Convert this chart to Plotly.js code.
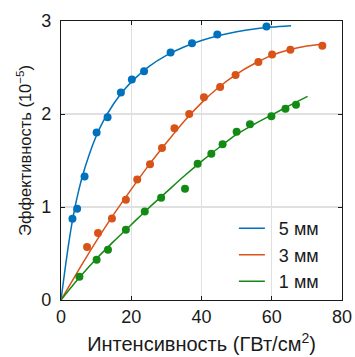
<!DOCTYPE html>
<html>
<head>
<meta charset="utf-8">
<script src="https://cdn.plot.ly/plotly-3.0.1.min.js"></script>
<style>html,body{margin:0;padding:0;background:#fff;}#chart{width:355px;height:357px;}</style>
</head>
<body>
<div id="chart"></div>
<script>
// Measured points
const blueX = [3.26, 4.59, 6.71, 10.14, 13.26, 17.05, 20.17, 23.65, 31.2, 37.3, 44.5, 58.5];
const blueY = [0.874, 0.98, 1.327, 1.80, 1.964, 2.23, 2.37, 2.46, 2.66, 2.76, 2.856, 2.94];
const orangeX = [7.42, 10.54, 14.5, 18.47, 21.7, 25.35, 28.75, 32.3, 36.5, 40.7, 45.3, 49.7, 56.2, 60.1, 65.3, 74.4];
const orangeY = [0.57, 0.72, 0.877, 1.077, 1.297, 1.46, 1.634, 1.846, 2.00, 2.18, 2.29, 2.42, 2.56, 2.64, 2.69, 2.735];
const greenX = [5.24, 10.14, 13.37, 18.47, 23.85, 28.5, 35.3, 38.9, 42.8, 46.0, 50.0, 53.8, 59.9, 63.9, 66.9];
const greenY = [0.249, 0.434, 0.541, 0.756, 0.952, 1.099, 1.195, 1.466, 1.573, 1.674, 1.81, 1.89, 1.977, 2.056, 2.10];

// Fit curves
const blueFitX = [0, 1, 2, 3, 4, 5, 6, 8, 10, 12, 15, 18, 21, 25, 30, 35, 40, 45, 50, 55, 60, 65.5];
const blueFitY = [0, 0.29, 0.56, 0.80, 1.00, 1.17, 1.32, 1.56, 1.76, 1.92, 2.11, 2.26, 2.38, 2.51, 2.63, 2.72, 2.79, 2.845, 2.885, 2.915, 2.935, 2.95];
const orangeFitX = [0, 5, 10, 15, 20, 25, 30, 35, 40, 45, 50, 55, 60, 65, 70, 74.4];
const orangeFitY = [0, 0.32, 0.63, 0.92, 1.19, 1.45, 1.69, 1.92, 2.12, 2.29, 2.43, 2.54, 2.63, 2.69, 2.73, 2.75];
const greenFitX = [0, 5, 10, 15, 20, 25, 30, 35, 40, 45, 50, 55, 60, 65, 70.2];
const greenFitY = [0, 0.23, 0.44, 0.63, 0.81, 0.99, 1.16, 1.33, 1.49, 1.64, 1.78, 1.89, 1.99, 2.09, 2.19];

const names = ['5 мм', '3 мм', '1 мм'];
const colors = ['#0072BD', '#D95319', '#138A13'];

const xTicks = [0, 20, 40, 60, 80];
const yTicks = [0, 1, 2, 3];

const pts = [[blueX, blueY], [orangeX, orangeY], [greenX, greenY]];
const fits = [[blueFitX, blueFitY], [orangeFitX, orangeFitY], [greenFitX, greenFitY]];

const data = [];
for (let i = 0; i < 3; i++) {
  data.push({
    x: fits[i][0], y: fits[i][1], type: 'scatter', mode: 'lines',
    line: {color: colors[i], width: 1.5, shape: 'spline', smoothing: 0.8},
    name: names[i], showlegend: true, hoverinfo: 'skip'
  });
}
for (let i = 0; i < 3; i++) {
  data.push({
    x: pts[i][0], y: pts[i][1], type: 'scatter', mode: 'markers',
    marker: {color: colors[i], size: 8}, showlegend: false, hoverinfo: 'skip'
  });
}

const fam = 'Liberation Sans, Arial, sans-serif';
const ink = '#1a1a1a';

const layout = {
  width: 355, height: 357,
  margin: {l: 60.5, r: 12.5, t: 20.5, b: 56.5},
  paper_bgcolor: '#fff', plot_bgcolor: '#fff',
  font: {family: fam, size: 18, color: ink},
  showlegend: true,
  legend: {x: 0.633, y: 0.322, xanchor: 'left', yanchor: 'top', bgcolor: 'rgba(0,0,0,0)',
           borderwidth: 0, font: {family: fam, size: 18, color: ink}, tracegroupgap: 0},
  xaxis: {
    range: [0, 80], tickvals: xTicks, ticktext: xTicks.map(String),
    ticks: 'inside', ticklen: 4, tickcolor: ink, showline: true, linecolor: ink, linewidth: 1.2,
    mirror: 'ticks', showgrid: true, gridcolor: '#e0e0e0', gridwidth: 1.2, zeroline: false,
    title: {text: 'Интенсивность (ГВт/см<sup>2</sup>)', font: {size: 20, color: ink}, standoff: 11},
    tickfont: {size: 18, color: ink}
  },
  yaxis: {
    range: [0, 3], tickvals: yTicks, ticktext: yTicks.map(String),
    ticks: 'inside', ticklen: 4, tickcolor: ink, showline: true, linecolor: ink, linewidth: 1.2,
    mirror: 'ticks', showgrid: true, gridcolor: '#e0e0e0', gridwidth: 1.2, zeroline: false,
    ticklabelstandoff: 5,
    title: {text: 'Эффективность (10<sup>−5</sup>)', font: {size: 16.5, color: ink}, standoff: 5},
    tickfont: {size: 18, color: ink}
  }
};

Plotly.newPlot('chart', data, layout, {staticPlot: true, displayModeBar: false}).then(function(gd){
  // lengthen legend line samples to match the reference
  gd.querySelectorAll('.legend .legendlines path').forEach(function(p){
    p.setAttribute('d', 'M-18,0h44');
  });
  // nudge the y-axis title upward as in the reference
  var yt = gd.querySelector('.g-ytitle');
  if (yt) yt.setAttribute('transform', 'translate(0,-10)');
});
</script>
</body>
</html>
